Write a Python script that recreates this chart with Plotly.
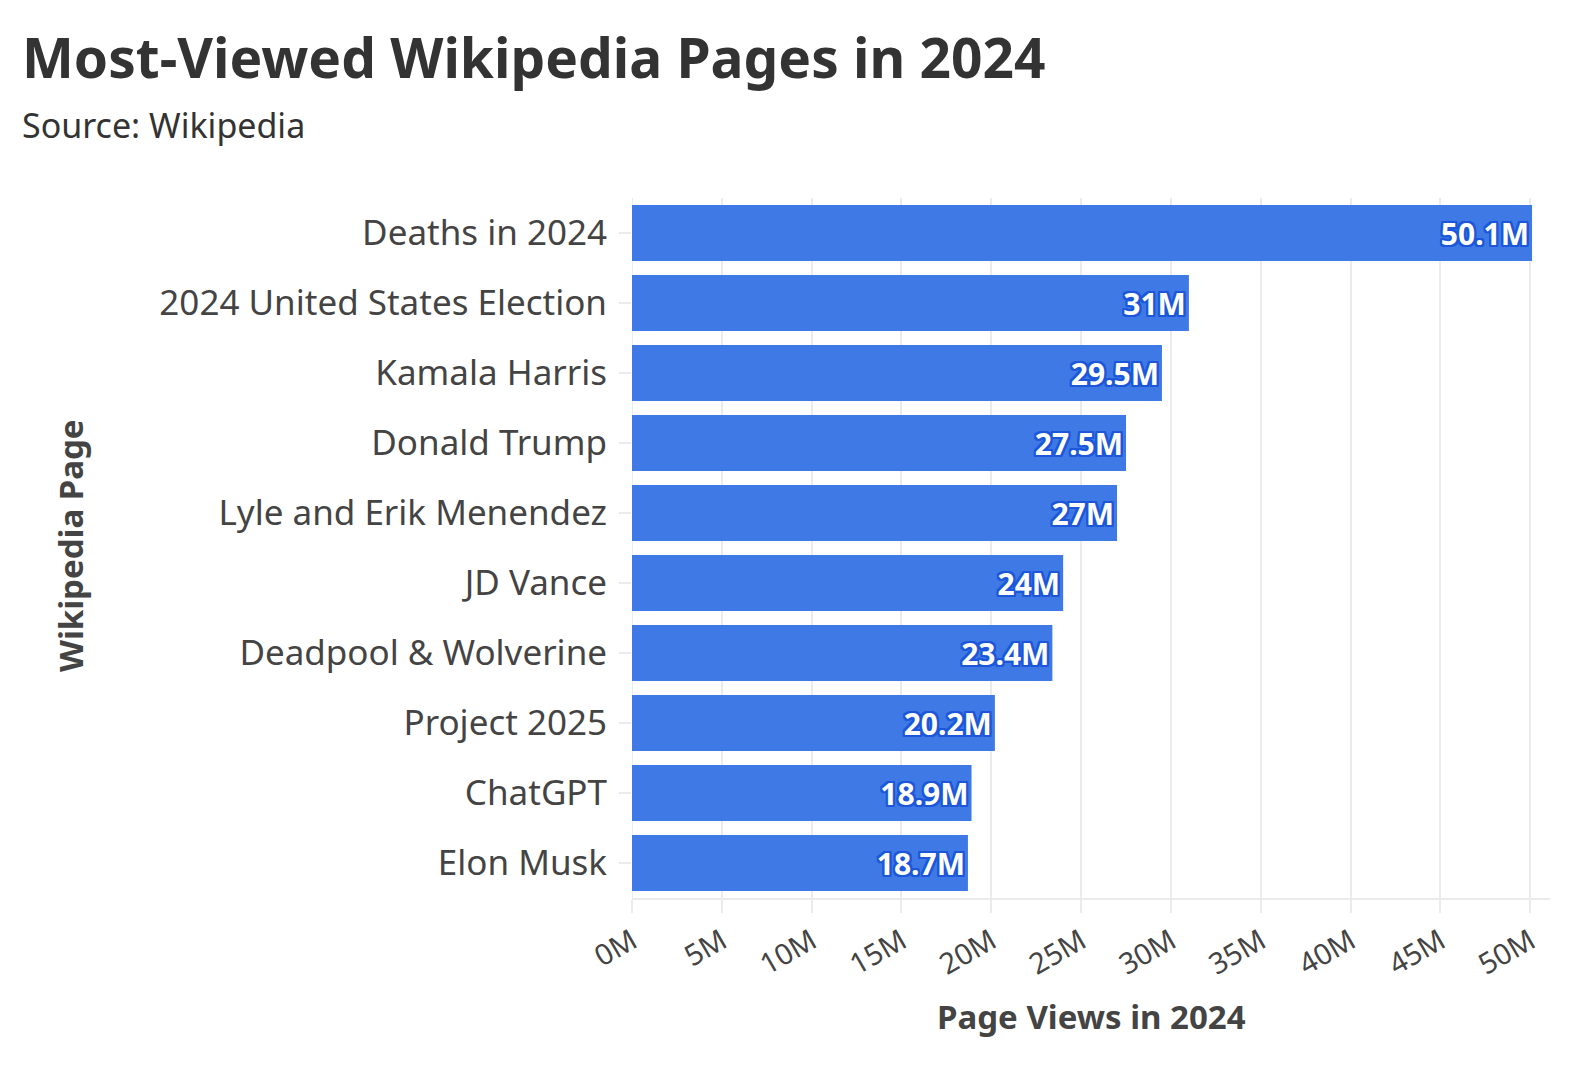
import plotly.graph_objects as go

pages = ["Deaths in 2024", "2024 United States Election", "Kamala Harris", "Donald Trump",
         "Lyle and Erik Menendez", "JD Vance", "Deadpool & Wolverine", "Project 2025",
         "ChatGPT", "Elon Musk"]
views_m = [50.1, 31, 29.5, 27.5, 27, 24, 23.4, 20.2, 18.9, 18.7]
labels = ["50.1M", "31M", "29.5M", "27.5M", "27M", "24M", "23.4M", "20.2M", "18.9M", "18.7M"]
tick_vals_m = [0, 5, 10, 15, 20, 25, 30, 35, 40, 45, 50]
tick_text = ["0M", "5M", "10M", "15M", "20M", "25M", "30M", "35M", "40M", "45M", "50M"]

FONT = "Noto Sans"
OUT = "#1c57d9"
shadow = ", ".join(f"{dx}px {dy}px 0px {OUT}" for dx in (-2, -1, 0, 1, 2) for dy in (-2, -1, 0, 1, 2) if (dx, dy) != (0, 0))

L, R, T, B = 624, 46, 190, 184
PW, PH = 1588 - L - R, 1074 - T - B

fig = go.Figure(go.Bar(
    y=pages, x=[v * 1e6 for v in views_m], orientation="h",
    text=labels, textposition="inside", insidetextanchor="end",
    textfont=dict(family=FONT, size=30, color="white", weight="bold", shadow=shadow),
    marker=dict(color="#3f79e6", line=dict(width=0)),
    cliponaxis=False, textangle=0,
))

fig.update_layout(
    width=1588, height=1074,
    margin=dict(l=L, r=R, t=T, b=B),
    paper_bgcolor="white", plot_bgcolor="white",
    bargap=0.2,
    showlegend=False,
    font=dict(family=FONT, color="#444444"),
    xaxis=dict(
        range=[0, 51.1e6], tickvals=[v * 1e6 for v in tick_vals_m], ticktext=tick_text,
        tickangle=-30, tickfont=dict(size=29, color="#444444"),
        showgrid=True, gridcolor="#ebebeb", gridwidth=2,
        showline=True, linecolor="#ebebeb", linewidth=2,
        ticks="outside", ticklen=13, tickcolor="#ebebeb", tickwidth=2,
        zeroline=False,
    ),
    yaxis=dict(
        categoryorder="array", categoryarray=pages[::-1],
        tickfont=dict(size=35, color="#444444"),
        showgrid=False, showline=False,
        ticks="outside", ticklen=12, tickcolor="#ebebeb", tickwidth=2,
        ticklabelstandoff=5,
    ),
)
# title & subtitle
fig.add_annotation(text="<b>Most-Viewed Wikipedia Pages in 2024</b>", xref="paper", yref="paper",
                   x=-L / PW, y=1 + (T - 76) / PH, xanchor="left", yanchor="bottom", showarrow=False,
                   font=dict(family=FONT, size=55, color="#333333"), xshift=12, yshift=-12)
fig.add_annotation(text="Source: Wikipedia", xref="paper", yref="paper",
                   x=-L / PW, y=1 + (T - 133) / PH, xanchor="left", yanchor="bottom", showarrow=False,
                   font=dict(family=FONT, size=34, color="#333333"), xshift=12, yshift=-9)
# axis titles
fig.add_annotation(text="<b>Page Views in 2024</b>", xref="paper", yref="paper",
                   x=0.5, y=-(1008 - (T + PH)) / PH, xanchor="center", yanchor="middle", showarrow=False,
                   font=dict(family=FONT, size=33, color="#444444"))
fig.add_annotation(text="<b>Wikipedia Page</b>", xref="paper", yref="paper",
                   x=(62 - L) / PW, y=(T + PH - 538) / PH, xanchor="center", yanchor="middle", showarrow=False,
                   textangle=-90, font=dict(family=FONT, size=33, color="#444444"))
# vertical zero gridline
fig.add_shape(type="line", xref="x", yref="paper", x0=0, x1=0, y0=0, y1=1,
              line=dict(color="#ebebeb", width=2), layer="below")

fig.write_html("out.html")
